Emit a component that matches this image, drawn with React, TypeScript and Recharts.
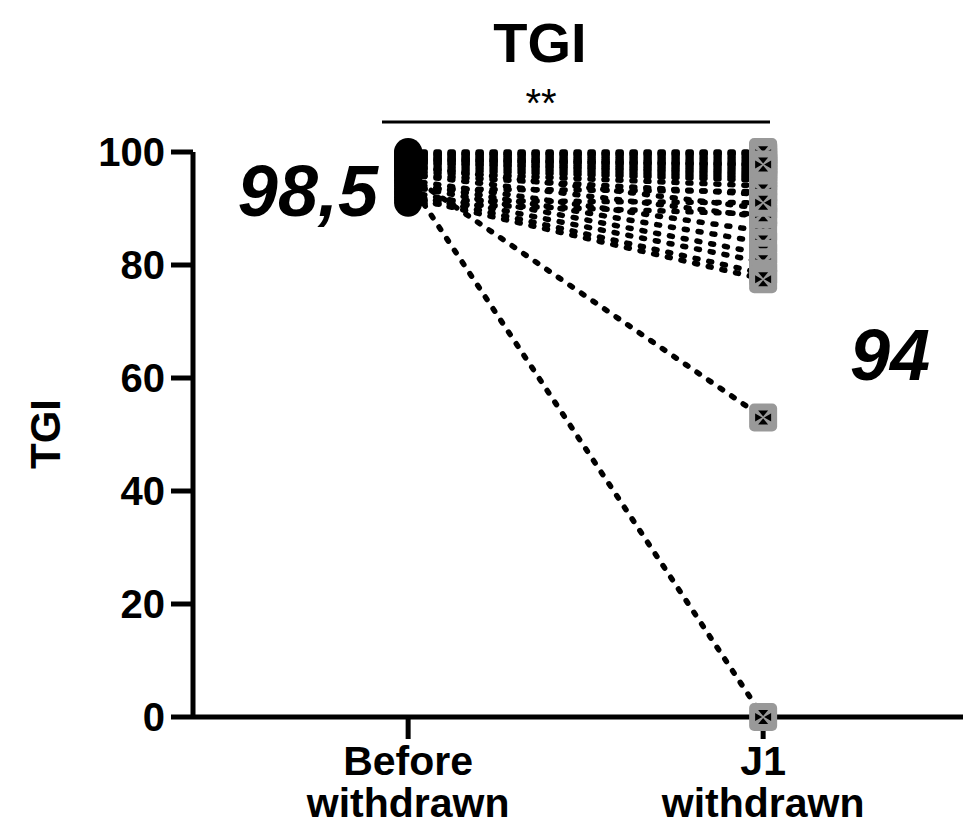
import { ComposedChart, Line, Scatter, XAxis, YAxis } from "recharts"

const categories = ["Before withdrawn", "J1 withdrawn"]
const yTicks = [0, 20, 40, 60, 80, 100]

// one value per animal, same order in both arrays
const beforeTGI = [100, 99.8, 99.5, 99.2, 99, 98.8, 98.5, 98.2, 98, 97.5, 97, 96.5, 96, 97.5, 96, 95, 94.5, 94, 93, 92.5, 92, 91, 96, 95, 93.5, 91.5, 99.6, 98.6]
const afterTGI = [100, 99.5, 99, 98.5, 98, 97.5, 97, 96.5, 96, 95.5, 95, 94, 92.5, 90, 88.5, 86, 84, 82, 80.5, 78.5, 77.5, 89, 53, 0, 93, 91, 99.8, 97.8]

const chartTitle = "TGI"
const yLabel = "TGI"
const significance = "**"
const beforeMedian = "98,5"
const afterMedian = "94"

const W = 963
const H = 830
const font = "'Liberation Sans', Arial, Helvetica, sans-serif"

const pairs = beforeTGI.map((b, i) => [
  { x: 0, y: b },
  { x: 1, y: afterTGI[i] },
])
const beforePts = beforeTGI.map((v) => ({ x: 0, y: v }))
const afterPts = afterTGI.map((v) => ({ x: 1, y: v }))

function XTick({ x, y, payload }: any) {
  const words = categories[payload.value].split(" ")
  return (
    <text x={x} y={y} textAnchor="middle" fontFamily={font} fontWeight="bold" fontSize={41} fill="#000">
      {words.map((w, i) => (
        <tspan key={i} x={x} dy={i === 0 ? 34 : 42}>
          {w}
        </tspan>
      ))}
    </text>
  )
}

function BeforeDot({ cx, cy }: any) {
  return <circle cx={cx} cy={cy} r={14} fill="#000" />
}

function AfterDot({ cx, cy }: any) {
  const s = 5
  return (
    <g>
      <rect x={cx - 14} y={cy - 14} width={28} height={28} rx={5} fill="#999" />
      <path
        d={`M${cx - s},${cy - s - 2}L${cx + s},${cy - s - 2}L${cx},${cy - 1}Z
            M${cx - s},${cy + s + 2}L${cx + s},${cy + s + 2}L${cx},${cy + 1}Z
            M${cx - s - 3},${cy - s + 1}L${cx - s - 3},${cy + s - 1}L${cx - 1},${cy}Z
            M${cx + s + 3},${cy - s + 1}L${cx + s + 3},${cy + s - 1}L${cx + 1},${cy}Z`}
        fill="#000"
      />
    </g>
  )
}

export default function App() {
  return (
    <div style={{ position: "absolute", left: 0, top: 0, width: W, height: H, background: "#fff" }}>
      <ComposedChart width={W} height={H} margin={{ top: 152, right: 0, bottom: 0, left: 0 }}>
        <XAxis
          type="number"
          dataKey="x"
          domain={[-0.606, 1.563]}
          ticks={[0, 1]}
          tick={<XTick />}
          tickSize={22}
          height={113}
          axisLine={{ stroke: "#000", strokeWidth: 5 }}
          tickLine={{ stroke: "#000", strokeWidth: 5 }}
          allowDataOverflow
        />
        <YAxis
          type="number"
          dataKey="y"
          domain={[0, 100]}
          ticks={yTicks}
          width={193}
          tickSize={22}
          tickMargin={6}
          axisLine={{ stroke: "#000", strokeWidth: 5 }}
          tickLine={{ stroke: "#000", strokeWidth: 5 }}
          tick={{ fill: "#000", fontFamily: font, fontWeight: "bold", fontSize: 40 }}
        />
        {pairs.map((d, i) => (
          <Line
            key={i}
            data={d}
            dataKey="y"
            stroke="#000"
            strokeWidth={5.5}
            strokeDasharray="3 11"
            strokeLinecap="round"
            dot={false}
            activeDot={false}
            isAnimationActive={false}
          />
        ))}
        <Scatter data={beforePts} dataKey="y" shape={<BeforeDot />} isAnimationActive={false} />
        <Scatter data={afterPts} dataKey="y" shape={<AfterDot />} isAnimationActive={false} />
      </ComposedChart>
      <svg width={W} height={H} style={{ position: "absolute", left: 0, top: 0, pointerEvents: "none" }}>
        <text x={540} y={62} textAnchor="middle" fontFamily={font} fontWeight="bold" fontSize={56}>
          {chartTitle}
        </text>
        <text x={541} y={117} textAnchor="middle" fontFamily={font} fontSize={40}>
          {significance}
        </text>
        <line x1={382} x2={770} y1={122} y2={122} stroke="#000" strokeWidth={3} />
        <text
          x={60}
          y={434}
          textAnchor="middle"
          transform="rotate(-90 60 434)"
          fontFamily={font}
          fontWeight="bold"
          fontSize={42}
        >
          {yLabel}
        </text>
        <text x={378} y={216} textAnchor="end" fontFamily={font} fontWeight="bold" fontStyle="italic" fontSize={72}>
          {beforeMedian}
        </text>
        <text x={930} y={380} textAnchor="end" fontFamily={font} fontWeight="bold" fontStyle="italic" fontSize={72}>
          {afterMedian}
        </text>
      </svg>
    </div>
  )
}
